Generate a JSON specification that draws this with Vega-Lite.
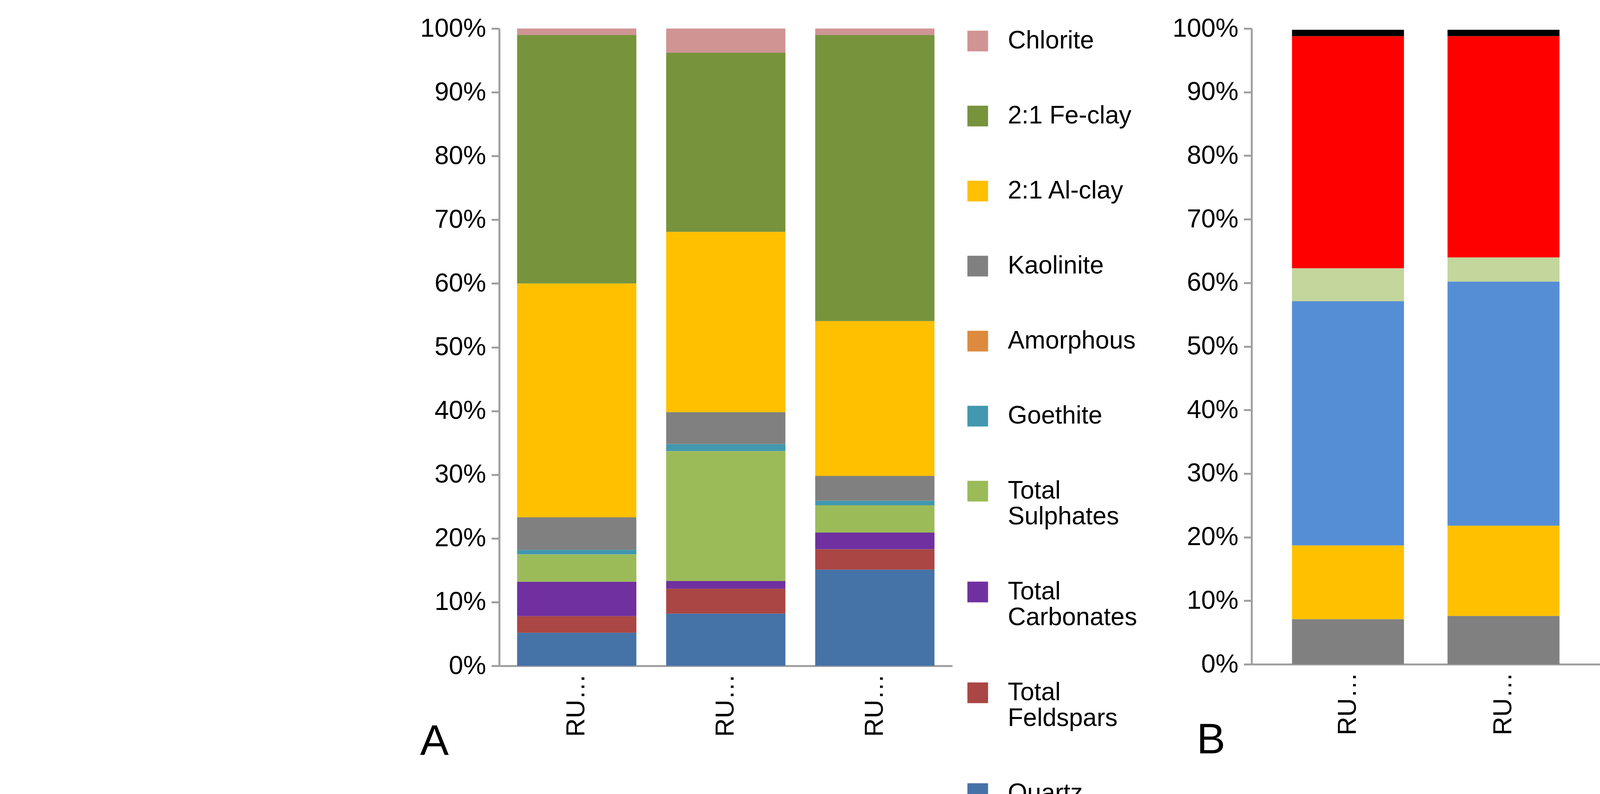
{
"$schema":"https://vega.github.io/schema/vega-lite/v6.json",
"background":"white",
"padding":{"left":1075,"top":40,"right":10,"bottom":10},
"spacing":90,
"config":{"font":"Liberation Sans","view":{"stroke":null},
"axis":{"labelFont":"Liberation Sans","labelFontSize":66,"labelColor":"#000","domainColor":"#A0A0A0","domainWidth":5,"tickColor":"#A0A0A0","tickWidth":5,"tickSize":20,"grid":false},
"legend":{"labelFont":"Liberation Sans","labelFontSize":64,"labelColor":"#000","symbolType":"square","symbolSize":2800,"symbolStrokeWidth":0,"labelOffset":45,"labelLimit":1000,"title":null,"offset":33}},
"datasets":{
"a":[
{"s":"RU208","m":"Quartz","r":1,"v":5.2},{"s":"RU208","m":"Total Feldspars","r":2,"v":2.6},{"s":"RU208","m":"Total Carbonates","r":3,"v":5.4},{"s":"RU208","m":"Total Sulphates","r":4,"v":4.3},{"s":"RU208","m":"Goethite","r":5,"v":0.7},{"s":"RU208","m":"Amorphous","r":6,"v":0},{"s":"RU208","m":"Kaolinite","r":7,"v":5.1},{"s":"RU208","m":"2:1 Al-clay","r":8,"v":36.7},{"s":"RU208","m":"2:1 Fe-clay","r":9,"v":39},{"s":"RU208","m":"Chlorite","r":10,"v":1},
{"s":"RU209","m":"Quartz","r":1,"v":8.2},{"s":"RU209","m":"Total Feldspars","r":2,"v":3.9},{"s":"RU209","m":"Total Carbonates","r":3,"v":1.2},{"s":"RU209","m":"Total Sulphates","r":4,"v":20.4},{"s":"RU209","m":"Goethite","r":5,"v":1.1},{"s":"RU209","m":"Amorphous","r":6,"v":0},{"s":"RU209","m":"Kaolinite","r":7,"v":5},{"s":"RU209","m":"2:1 Al-clay","r":8,"v":28.3},{"s":"RU209","m":"2:1 Fe-clay","r":9,"v":28.1},{"s":"RU209","m":"Chlorite","r":10,"v":3.8},
{"s":"RU210","m":"Quartz","r":1,"v":15.1},{"s":"RU210","m":"Total Feldspars","r":2,"v":3.2},{"s":"RU210","m":"Total Carbonates","r":3,"v":2.6},{"s":"RU210","m":"Total Sulphates","r":4,"v":4.3},{"s":"RU210","m":"Goethite","r":5,"v":0.7},{"s":"RU210","m":"Amorphous","r":6,"v":0},{"s":"RU210","m":"Kaolinite","r":7,"v":3.9},{"s":"RU210","m":"2:1 Al-clay","r":8,"v":24.3},{"s":"RU210","m":"2:1 Fe-clay","r":9,"v":44.9},{"s":"RU210","m":"Chlorite","r":10,"v":1}],
"b":[
{"s":"RU208","m":"Kaolinite","r":1,"v":7.1},{"s":"RU208","m":"Illite","r":2,"v":11.6},{"s":"RU208","m":"ISS R0","r":3,"v":38.4},{"s":"RU208","m":"Glauconite-smectite Low","r":4,"v":0},{"s":"RU208","m":"Glauconite-smectite High","r":5,"v":5.2},{"s":"RU208","m":"Di-smectite","r":6,"v":36.5},{"s":"RU208","m":"Chlorite","r":7,"v":1.0},
{"s":"RU209","m":"Kaolinite","r":1,"v":7.6},{"s":"RU209","m":"Illite","r":2,"v":14.2},{"s":"RU209","m":"ISS R0","r":3,"v":38.4},{"s":"RU209","m":"Glauconite-smectite Low","r":4,"v":0},{"s":"RU209","m":"Glauconite-smectite High","r":5,"v":3.8},{"s":"RU209","m":"Di-smectite","r":6,"v":34.8},{"s":"RU209","m":"Chlorite","r":7,"v":1.0},
{"s":"RU210","m":"Kaolinite","r":1,"v":7.1},{"s":"RU210","m":"Illite","r":2,"v":14.7},{"s":"RU210","m":"ISS R0","r":3,"v":24.2},{"s":"RU210","m":"Glauconite-smectite Low","r":4,"v":3.1},{"s":"RU210","m":"Glauconite-smectite High","r":5,"v":22.1},{"s":"RU210","m":"Di-smectite","r":6,"v":27.6},{"s":"RU210","m":"Chlorite","r":7,"v":1.0}]
},
"resolve":{"scale":{"color":"independent"},"legend":{"color":"independent"}},
"hconcat":[
{"data":{"name":"a"},"mark":{"type":"bar"},"width":1160,"height":1631,
"encoding":{
"x":{"field":"s","type":"nominal","scale":{"paddingInner":0.2,"paddingOuter":0.12},"axis":{"labelAngle":-90,"labelPadding":20,"ticks":false,"title":"A","titleFontSize":110,"titleFontWeight":"normal","titleAngle":0,"titleAnchor":"start","titleAlign":"left","titleX":-203,"titleY":250,"titleBaseline":"bottom"}},
"y":{"field":"v","type":"quantitative","stack":"normalize","scale":{"domain":[0,1]},"axis":{"title":null,"format":".0%","values":[0,0.1,0.2,0.3,0.4,0.5,0.6,0.7,0.8,0.9,1],"labelPadding":14}},
"order":{"field":"r","type":"quantitative"},
"color":{"field":"m","type":"nominal","scale":{"domain":["Chlorite","2:1 Fe-clay","2:1 Al-clay","Kaolinite","Amorphous","Goethite","Total Sulphates","Total Carbonates","Total Feldspars","Quartz"],"range":["#D09493","#77933C","#FFC000","#808080","#DD8A3E","#4198AF","#9BBB59","#7030A0","#AA4643","#4572A7"]},
"legend":{"rowPadding":128,"labelExpr":"datum.label=='Total Sulphates' ? ['Total','Sulphates'] : datum.label=='Total Carbonates' ? ['Total','Carbonates'] : datum.label=='Total Feldspars' ? ['Total','Feldspars'] : datum.label","labelLineHeight":78}}}},
{"data":{"name":"b"},"mark":{"type":"bar"},"width":1290,"height":1627,
"encoding":{
"x":{"field":"s","type":"nominal","scale":{"paddingInner":0.28,"paddingOuter":0.26},"axis":{"labelAngle":-90,"labelPadding":20,"ticks":false,"title":"B","titleFontSize":110,"titleFontWeight":"normal","titleAngle":0,"titleAnchor":"start","titleAlign":"left","titleX":-141,"titleY":250,"titleBaseline":"bottom"}},
"y":{"field":"v","type":"quantitative","stack":"zero","scale":{"domain":[0,100]},"axis":{"title":null,"labelExpr":"datum.value + '%'","values":[0,10,20,30,40,50,60,70,80,90,100],"labelPadding":14}},
"order":{"field":"r","type":"quantitative"},
"color":{"field":"m","type":"nominal","scale":{"domain":["Chlorite","Di-smectite","Glauconite-smectite High","Glauconite-smectite Low","ISS R0","Illite","Kaolinite"],"range":["#000000","#FF0000","#C3D69B","#77933C","#558ED5","#FFC000","#808080"]},
"legend":{"rowPadding":90,"labelExpr":"datum.label=='Glauconite-smectite High' ? ['Glauconite-','smectite  High'] : datum.label=='Glauconite-smectite Low' ? ['Glauconite-','smectite  Low'] : datum.label","labelLineHeight":78}}}}
]
}
